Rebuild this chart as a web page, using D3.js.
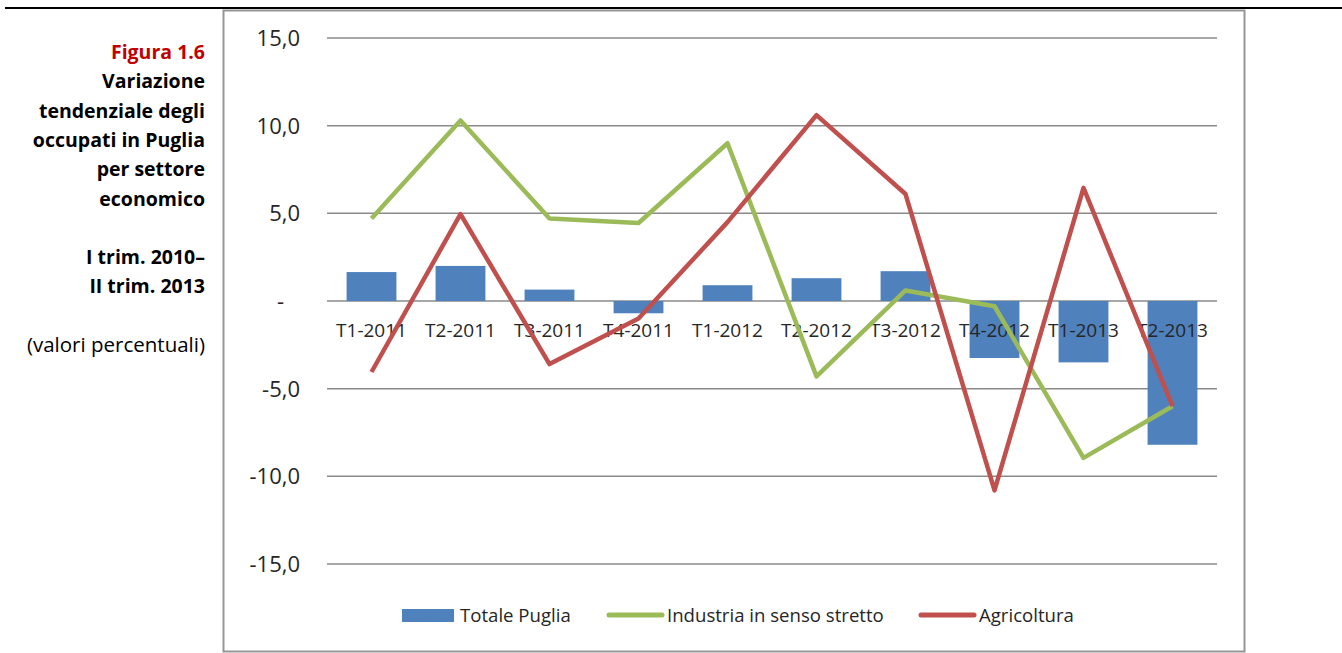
<!DOCTYPE html>
<html>
<head>
<meta charset="utf-8">
<script src="https://cdn.jsdelivr.net/npm/d3@7"></script>
<style>
body { margin: 0; background: #fff; }
svg { display: block; font-family: "Open Sans", "Noto Sans", sans-serif; }
</style>
</head>
<body>
<svg id="chart" width="1342" height="653"></svg>
<script>
// quarters on the x axis
const categories = ["T1-2011", "T2-2011", "T3-2011", "T4-2011", "T1-2012",
                    "T2-2012", "T3-2012", "T4-2012", "T1-2013", "T2-2013"];

// Totale Puglia (bars)
const totalePuglia = [1.65, 2.0, 0.65, -0.7, 0.9, 1.3, 1.7, -3.25, -3.5, -8.2];
// Industria in senso stretto (green line)
const industria = [4.7, 10.3, 4.7, 4.45, 9.0, -4.3, 0.6, -0.3, -8.95, -6.0];
// Agricoltura (red line)
const agricoltura = [-4.05, 4.95, -3.6, -1.0, 4.5, 10.6, 6.1, -10.8, 6.45, -6.0];

const yTicks = [15, 10, 5, 0, -5, -10, -15];

const captionLines = [
  {text: "Figura 1.6", bold: true, red: true},
  {text: "Variazione", bold: true},
  {text: "tendenziale degli", bold: true},
  {text: "occupati in Puglia", bold: true},
  {text: "per settore", bold: true},
  {text: "economico", bold: true},
  {text: "", bold: true},
  {text: "I trim. 2010\u2013", bold: true},
  {text: "II trim. 2013", bold: true},
  {text: "", bold: false},
  {text: "(valori percentuali)", bold: false}
];

const colors = {bar: "#4f81bd", green: "#9bbb59", red: "#c0504d"};

let svg = d3.select("#chart");

// top rule and chart frame
svg.append("line")
   .attr("x1", 5).attr("x2", 1342)
   .attr("y1", 8).attr("y2", 8)
   .attr("stroke", "#000").attr("stroke-width", 2);

svg.append("rect")
   .attr("x", 223.5).attr("y", 10.5)
   .attr("width", 1021).attr("height", 641)
   .attr("fill", "#fff")
   .attr("stroke", "#959595").attr("stroke-width", 2);

// caption on the left
svg.append("g").selectAll("text")
   .data(captionLines)
   .join("text")
   .attr("x", 205)
   .attr("y", function (d, i) { return 59 + i * 29.3; })
   .attr("text-anchor", "end")
   .attr("font-size", function (d) { return d.bold ? 19.5 : 20.5; })
   .attr("font-weight", function (d) { return d.bold ? 700 : 400; })
   .attr("fill", function (d) { return d.red ? "#c00000" : "#000"; })
   .text(function (d) { return d.text; });

let x = d3.scaleBand()
    .domain(categories)
    .range([327, 1217]);

let y = d3.scaleLinear()
    .domain([-15, 15])
    .range([564, 38]);

// gridlines
svg.append("g").selectAll("line")
   .data(yTicks)
   .join("line")
   .attr("x1", 327).attr("x2", 1217)
   .attr("y1", function (d) { return y(d); })
   .attr("y2", function (d) { return y(d); })
   .attr("stroke", "#8a8a8a")
   .attr("stroke-width", 1.5);

// y tick labels
let fmt = function (d) {
  return d === 0 ? "-" : d.toFixed(1).replace(".", ",");
};
svg.append("g").selectAll("text")
   .data(yTicks)
   .join("text")
   .attr("x", function (d) { return d === 0 ? 284 : 300; })
   .attr("y", function (d) { return y(d) + 8; })
   .attr("text-anchor", "end")
   .attr("font-size", 22)
   .attr("fill", "#262626")
   .text(fmt);

// bars
let barW = x.bandwidth() * 0.56;
svg.append("g").selectAll("rect")
   .data(totalePuglia)
   .join("rect")
   .attr("x", function (d, i) { return x(categories[i]) + (x.bandwidth() - barW) / 2; })
   .attr("y", function (d) { return y(Math.max(0, d)); })
   .attr("width", barW)
   .attr("height", function (d) { return Math.abs(y(d) - y(0)); })
   .attr("fill", colors.bar);

// category labels
svg.append("g").selectAll("text")
   .data(categories)
   .join("text")
   .attr("x", function (d) { return x(d) + x.bandwidth() / 2; })
   .attr("y", y(0) + 36)
   .attr("text-anchor", "middle")
   .attr("font-size", 19)
   .attr("fill", "#262626")
   .text(function (d) { return d; });

// lines
let line = d3.line()
    .x(function (d, i) { return x(categories[i]) + x.bandwidth() / 2; })
    .y(function (d) { return y(d); });

svg.append("path")
   .datum(industria)
   .attr("d", line)
   .attr("fill", "none")
   .attr("stroke", colors.green)
   .attr("stroke-width", 4.5)
   .attr("stroke-linejoin", "round");

svg.append("path")
   .datum(agricoltura)
   .attr("d", line)
   .attr("fill", "none")
   .attr("stroke", colors.red)
   .attr("stroke-width", 4.5)
   .attr("stroke-linejoin", "round");

// legend
let legend = svg.append("g").attr("font-size", 18.6);
legend.append("rect")
   .attr("x", 402).attr("y", 609)
   .attr("width", 52).attr("height", 13)
   .attr("fill", colors.bar);
legend.append("text")
   .attr("x", 460).attr("y", 622)
   .attr("fill", "#262626")
   .text("Totale Puglia");

legend.append("line")
   .attr("x1", 609).attr("x2", 662)
   .attr("y1", 615).attr("y2", 615)
   .attr("stroke", colors.green).attr("stroke-width", 5)
   .attr("stroke-linecap", "round");
legend.append("text")
   .attr("x", 667).attr("y", 622)
   .attr("fill", "#262626")
   .text("Industria in senso stretto");

legend.append("line")
   .attr("x1", 921).attr("x2", 974)
   .attr("y1", 615).attr("y2", 615)
   .attr("stroke", colors.red).attr("stroke-width", 5)
   .attr("stroke-linecap", "round");
legend.append("text")
   .attr("x", 979).attr("y", 622)
   .attr("fill", "#262626")
   .text("Agricoltura");
</script>
</body>
</html>
